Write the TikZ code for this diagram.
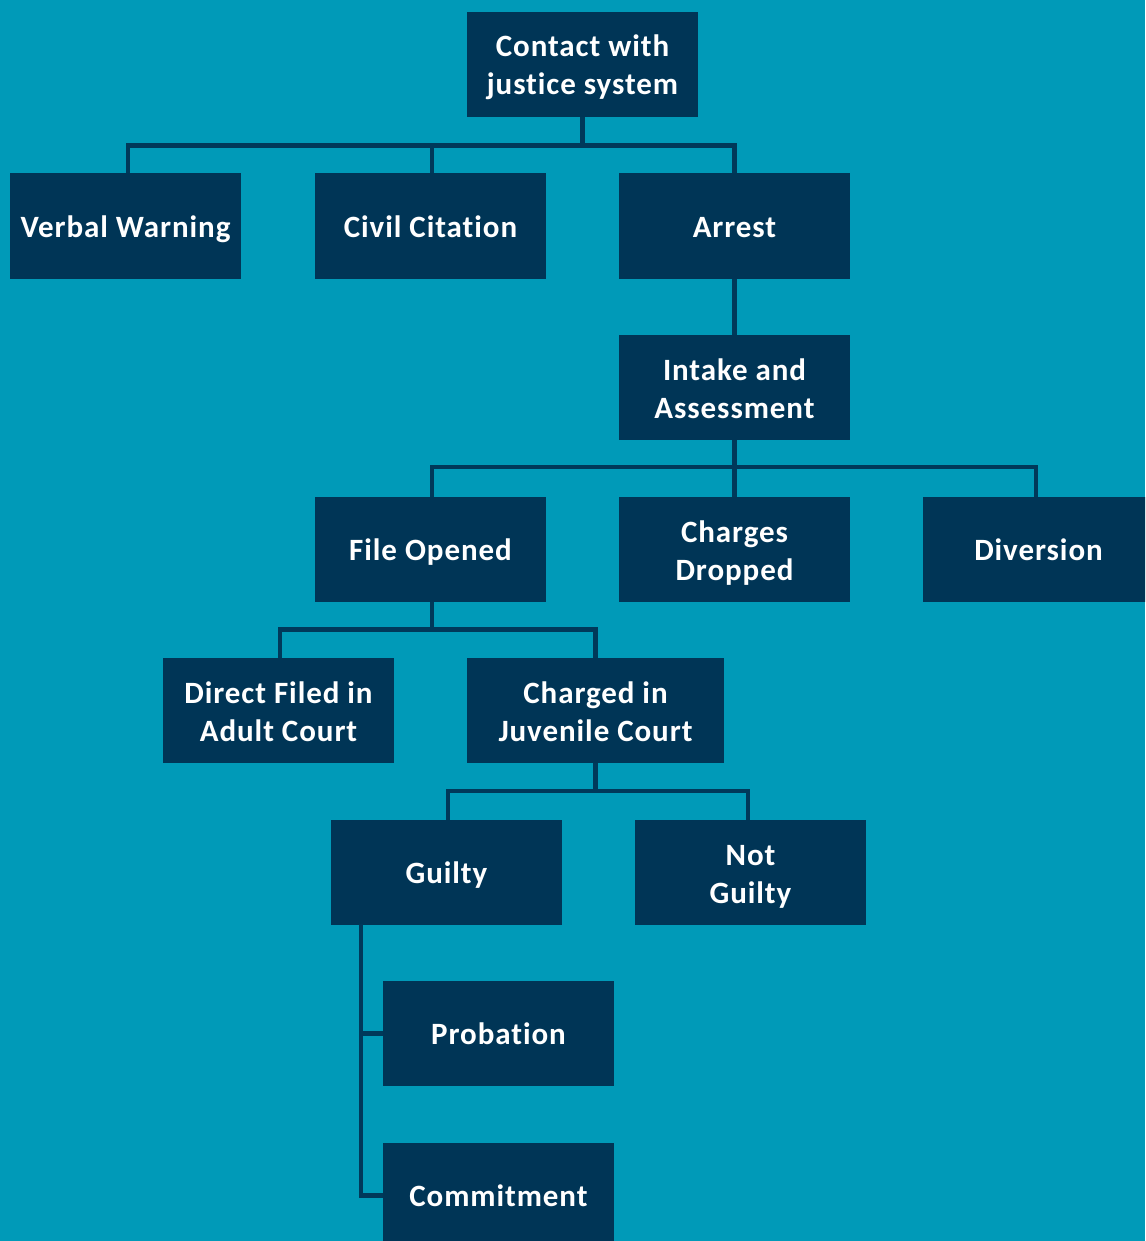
\documentclass[tikz,border=0pt]{standalone}
\usepackage{fontspec}
\setmainfont{Carlito}[LetterSpace=3, Ligatures=NoCommon]
\definecolor{bg}{HTML}{009AB8}
\definecolor{boxc}{HTML}{003556}
\definecolor{linec}{HTML}{00395A}
\begin{document}
\begin{tikzpicture}[x=1pt,y=-1pt,
  box/.style={rectangle, fill=boxc, inner sep=0pt,
    minimum width=231pt, minimum height=105pt},
  lbl/.style={text=white, inner sep=0pt, align=center, anchor=base,
    font=\fontsize{31}{38}\selectfont\bfseries},
  one/.style={lbl, yshift=-11pt},
  two/.style={lbl, yshift=-30.5pt},
  conn/.style={draw=linec, line width=4.5pt}]
\useasboundingbox (0,0) rectangle (1145,1241);
\clip (0,0) rectangle (1145,1241);
\fill[bg] (0,0) rectangle (1145,1241);

\node[box] (contact) at (582.5,64.5) {};
\node[box] (verbal) at (125.5,226) {};
\node[box] (civil) at (430.5,226) {};
\node[box] (arrest) at (734.5,226) {};
\node[box] (intake) at (734.5,387.5) {};
\node[box] (file) at (430.5,549.5) {};
\node[box] (dropped) at (734.5,549.5) {};
\node[box] (diversion) at (1038.5,549.5) {};
\node[box] (direct) at (278.5,710.5) {};
\node[box, minimum width=257pt] (juv) at (595.5,710.5) {};
\node[box] (guilty) at (446.5,872.5) {};
\node[box] (notg) at (750.5,872.5) {};
\node[box] (prob) at (498.5,1033.5) {};
\node[box] (commit) at (498.5,1195.5) {};

\node[two] (tcontact) at (contact.center) {Contact with\\justice system};
\node[one] (tverbal) at (verbal.center) {Verbal Warning};
\node[one] (tcivil) at (civil.center) {Civil Citation};
\node[one] (tarrest) at (arrest.center) {Arrest};
\node[two] (tintake) at (intake.center) {Intake and\\Assessment};
\node[one] (tfile) at (file.center) {File Opened};
\node[two] (tdropped) at (dropped.center) {Charges\\Dropped};
\node[one] (tdiversion) at (diversion.center) {Diversion};
\node[two] (tdirect) at (direct.center) {Direct Filed in\\Adult Court};
\node[two] (tjuv) at (juv.center) {Charged in\\Juvenile Court};
\node[one] (tguilty) at (guilty.center) {Guilty};
\node[two] (tnotg) at (notg.center) {Not\\Guilty};
\node[one] (tprob) at (prob.center) {Probation};
\node[one] (tcommit) at (commit.center) {Commitment};

% level 1
\coordinate (j1) at (582.5,145.5);
\draw[conn] (contact.south) -- (j1);
\draw[conn] (verbal.north -| 128,0) |- (j1) -| (arrest.north);
\draw[conn] (civil.north -| 432,0) -- (432,145.5);
% arrest to intake
\draw[conn] (arrest.south) -- (intake.north);
% level intake
\coordinate (j2) at (734.5,467);
\draw[conn] (intake.south) -- (dropped.north);
\draw[conn] (file.north -| 432,0) |- (j2) -| (diversion.north -| 1036,0);
% file opened
\coordinate (j3) at (432,629.5);
\draw[conn] (file.south -| 432,0) -- (j3);
\draw[conn] (direct.north -| 280,0) |- (j3) -| (juv.north);
% juvenile
\coordinate (j4) at (595.5,791);
\draw[conn] (juv.south) -- (j4);
\draw[conn] (guilty.north -| 448,0) |- (j4) -| (notg.north -| 748,0);
% guilty
\coordinate (g) at (361,924);
\draw[conn] (g) |- (commit.west);
\draw[conn] (g |- prob.west) -- (prob.west);
\end{tikzpicture}
\end{document}
